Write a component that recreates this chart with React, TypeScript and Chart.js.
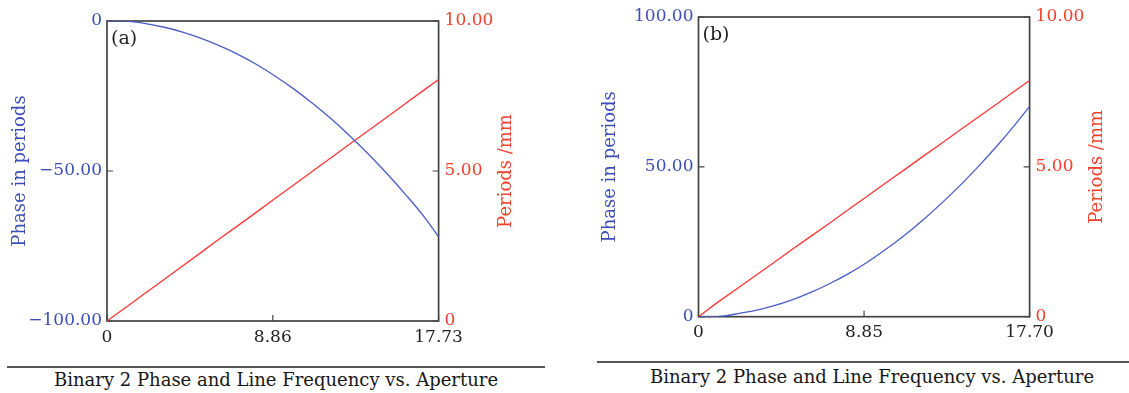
import React, { useEffect, useRef } from "react";
import { Chart, registerables } from "chart.js";

Chart.register(...registerables);

// ---------- data ----------
const apertureA = [0, 1, 2, 3, 4, 5, 6, 7, 8, 9, 10, 11, 12, 13, 14, 15, 16, 17, 17.73];
const phaseA = [0, 0, -0.8, -2.0, -3.6, -5.7, -8.2, -11.1, -14.5, -18.4, -22.7, -27.5, -32.7, -38.4, -44.5, -51.1, -58.1, -65.6, -71.9];
const freqA = [0, 0.45, 0.91, 1.36, 1.82, 2.27, 2.73, 3.18, 3.63, 4.09, 4.54, 5.0, 5.45, 5.91, 6.36, 6.81, 7.27, 7.72, 8.05];
const xTicksA = [0, 8.865, 17.73];
const xTickLabelsA = ["0", "8.86", "17.73"];
const phaseTicksA = [-100, -50, 0];
const phaseTickLabelsA = ["\u2212100.00", "\u221250.00", "0"];

const apertureB = [0, 1, 2, 3, 4, 5, 6, 7, 8, 9, 10, 11, 12, 13, 14, 15, 16, 17, 17.7];
const phaseB = [0, 0, 0.9, 2.0, 3.6, 5.6, 8.1, 11.0, 14.3, 18.1, 22.4, 27.1, 32.3, 37.9, 43.9, 50.4, 57.3, 64.7, 70.2];
const freqB = [0, 0.47, 0.91, 1.35, 1.79, 2.24, 2.68, 3.12, 3.57, 4.01, 4.46, 4.9, 5.35, 5.79, 6.24, 6.68, 7.12, 7.57, 7.88];
const xTicksB = [0, 8.85, 17.7];
const xTickLabelsB = ["0", "8.85", "17.70"];
const phaseTicksB = [0, 50, 100];
const phaseTickLabelsB = ["0", "50.00", "100.00"];

const freqTicks = [0, 5, 10];
const freqTickLabels = ["0", "5.00", "10.00"];

const caption = "Binary 2 Phase and Line Frequency vs. Aperture";
const leftTitle = "Phase in periods";
const rightTitle = "Periods /mm";

// ---------- style ----------
const FONT = "'DejaVu Serif', 'Liberation Serif', serif";
const BLUE_TEXT = "#3d4fb5";
const RED_TEXT = "#f2402c";
const BLUE_LINE = "#4a5cc4";
const RED_LINE = "#ff3535";
const FRAME = "#444444";

type PanelDef = {
  tag: string;
  xs: number[];
  phase: number[];
  freq: number[];
  xTicks: number[];
  xLabels: string[];
  pTicks: number[];
  pLabels: string[];
  left: number;
  width: number;
  height: number;
  padTop: number;
  leftW: number;
  rightW: number;
  xH: number;
  leftTitlePad: number;
  rightTitleOffset: number;
};

const panels: PanelDef[] = [
  {
    tag: "(a)",
    xs: apertureA,
    phase: phaseA,
    freq: freqA,
    xTicks: xTicksA,
    xLabels: xTickLabelsA,
    pTicks: phaseTicksA,
    pLabels: phaseTickLabelsA,
    left: 0,
    width: 560,
    height: 360,
    padTop: 21,
    leftW: 107,
    rightW: 560 - 438.6,
    xH: 360 - 321,
    leftTitlePad: 10,
    rightTitleOffset: 68,
  },
  {
    tag: "(b)",
    xs: apertureB,
    phase: phaseB,
    freq: freqB,
    xTicks: xTicksB,
    xLabels: xTickLabelsB,
    pTicks: phaseTicksB,
    pLabels: phaseTickLabelsB,
    left: 570,
    width: 559,
    height: 360,
    padTop: 17,
    leftW: 128.5,
    rightW: 559 - 459.6,
    xH: 360 - 316.7,
    leftTitlePad: 30,
    rightTitleOffset: 68,
  },
];

const framePlugin = {
  id: "frameTicks",
  beforeDatasetsDraw(chart: any) {
    const { ctx, chartArea: a } = chart;
    ctx.save();
    ctx.strokeStyle = FRAME;
    ctx.lineWidth = 1.7;
    ctx.strokeRect(a.left, a.top, a.right - a.left, a.bottom - a.top);
    const L = 6;
    ctx.lineWidth = 1.2;
    ctx.beginPath();
    const xs = chart.scales.x;
    xs.ticks.forEach((_t: any, i: number) => {
      const px = xs.getPixelForTick(i);
      ctx.moveTo(px, a.bottom);
      ctx.lineTo(px, a.bottom - L);
    });
    const y = chart.scales.y;
    y.ticks.forEach((_t: any, i: number) => {
      const py = y.getPixelForTick(i);
      ctx.moveTo(a.left, py);
      ctx.lineTo(a.left + L, py);
    });
    const y1 = chart.scales.y1;
    y1.ticks.forEach((_t: any, i: number) => {
      const py = y1.getPixelForTick(i);
      ctx.moveTo(a.right, py);
      ctx.lineTo(a.right - L, py);
    });
    ctx.stroke();
    ctx.restore();
  },
  afterDraw(chart: any) {
    const { ctx, chartArea: a } = chart;
    const opts = chart.options.plugins.frameTicks;
    ctx.save();
    ctx.fillStyle = "#222";
    ctx.font = `19px ${FONT}`;
    ctx.textAlign = "left";
    ctx.textBaseline = "middle";
    ctx.fillText(opts.tag, a.left + 4, a.top + 18);
    ctx.translate(a.right + opts.rightOffset, (a.top + a.bottom) / 2);
    ctx.rotate(-Math.PI / 2);
    ctx.textAlign = "center";
    ctx.fillStyle = RED_TEXT;
    ctx.font = `18px ${FONT}`;
    ctx.fillText(opts.rightTitle, 0, 0);
    ctx.restore();
  },
};

function Panel({ p }: { p: PanelDef }) {
  const ref = useRef<HTMLCanvasElement>(null);
  useEffect(() => {
    if (!ref.current) return;
    const tickFont = { family: FONT, size: 17 };
    const chart = new Chart(ref.current, {
      type: "line",
      data: {
        datasets: [
          {
            data: p.xs.map((x, i) => ({ x, y: p.phase[i] })),
            borderColor: BLUE_LINE,
            borderWidth: 1.3,
            yAxisID: "y",
            pointRadius: 0,
            cubicInterpolationMode: "monotone",
          },
          {
            data: p.xs.map((x, i) => ({ x, y: p.freq[i] })),
            borderColor: RED_LINE,
            borderWidth: 1.3,
            yAxisID: "y1",
            pointRadius: 0,
          },
        ],
      },
      options: {
        animation: false,
        responsive: false,
        maintainAspectRatio: false,
        layout: { padding: { top: p.padTop, left: 0, right: 0, bottom: 0 } },
        plugins: {
          legend: { display: false },
          tooltip: { enabled: false },
          frameTicks: { tag: p.tag, rightTitle, rightOffset: p.rightTitleOffset },
        } as any,
        scales: {
          x: {
            type: "linear",
            min: p.xTicks[0],
            max: p.xTicks[p.xTicks.length - 1],
            grid: { display: false, drawTicks: false },
            border: { display: false },
            afterBuildTicks: (s: any) => {
              s.ticks = p.xTicks.map((v) => ({ value: v }));
            },
            afterFit: (s: any) => {
              s.height = p.xH;
            },
            ticks: {
              padding: 6,
              color: "#222",
              font: tickFont,
              maxRotation: 0,
              autoSkip: false,
              callback: (_v: any, i: number) => p.xLabels[i],
            },
          },
          y: {
            type: "linear",
            position: "left",
            min: p.pTicks[0],
            max: p.pTicks[p.pTicks.length - 1],
            grid: { display: false, drawTicks: false },
            border: { display: false },
            afterBuildTicks: (s: any) => {
              s.ticks = p.pTicks.map((v) => ({ value: v }));
            },
            afterFit: (s: any) => {
              s.width = p.leftW;
            },
            ticks: {
              padding: 5,
              color: BLUE_TEXT,
              font: tickFont,
              autoSkip: false,
              callback: (_v: any, i: number) => p.pLabels[i],
            },
            title: {
              display: true,
              text: leftTitle,
              color: BLUE_TEXT,
              font: { family: FONT, size: 18 },
              padding: { top: p.leftTitlePad, bottom: 0 },
            },
          },
          y1: {
            type: "linear",
            position: "right",
            min: freqTicks[0],
            max: freqTicks[freqTicks.length - 1],
            grid: { display: false, drawTicks: false },
            border: { display: false },
            afterBuildTicks: (s: any) => {
              s.ticks = freqTicks.map((v) => ({ value: v }));
            },
            afterFit: (s: any) => {
              s.width = p.rightW;
            },
            ticks: {
              padding: 6,
              color: RED_TEXT,
              font: tickFont,
              autoSkip: false,
              callback: (_v: any, i: number) => freqTickLabels[i],
            },
          },
        },
      } as any,
      plugins: [framePlugin],
    });
    return () => chart.destroy();
  }, [p]);
  return (
    <canvas
      ref={ref}
      width={p.width}
      height={p.height}
      style={{ position: "absolute", left: p.left, top: 0, width: p.width, height: p.height }}
    />
  );
}

export default function App() {
  return (
    <div style={{ position: "absolute", left: 0, top: 0, width: 1129, height: 393, background: "#fff", overflow: "hidden" }}>
      <Panel p={panels[0]} />
      <Panel p={panels[1]} />
      <div style={{ position: "absolute", left: 7, top: 366, width: 538, height: 2, background: "#555" }} />
      <div style={{ position: "absolute", left: 597, top: 361, width: 532, height: 2, background: "#555" }} />
      <div
        style={{
          position: "absolute", left: 7, width: 538, top: 369, textAlign: "center",
          fontFamily: FONT, fontSize: 18, lineHeight: "22px", color: "#161616",
        }}
      >
        {caption}
      </div>
      <div
        style={{
          position: "absolute", left: 608, width: 528, top: 366, textAlign: "center",
          fontFamily: FONT, fontSize: 18, lineHeight: "22px", color: "#161616",
        }}
      >
        {caption}
      </div>
    </div>
  );
}
